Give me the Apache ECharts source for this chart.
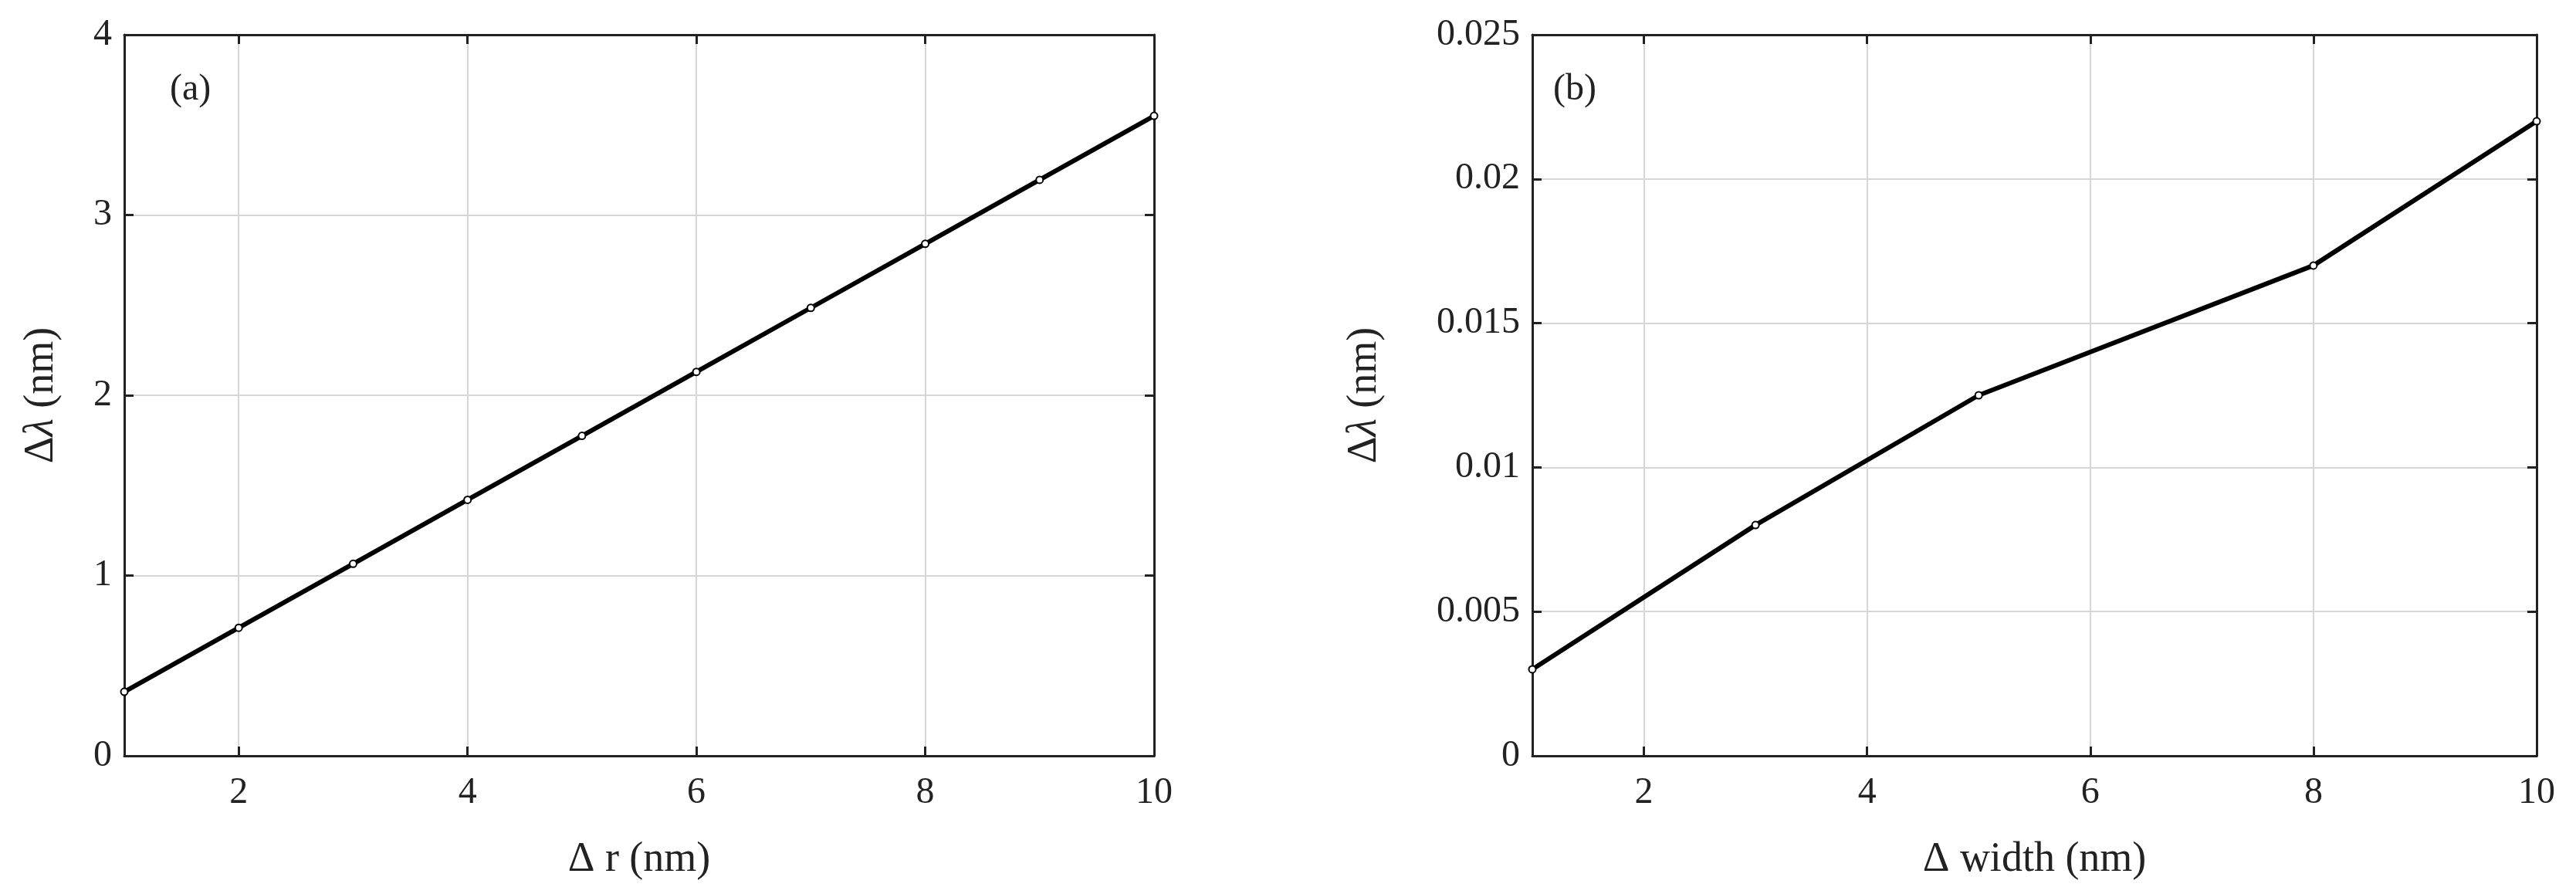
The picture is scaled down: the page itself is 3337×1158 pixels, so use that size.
<!DOCTYPE html>
<html><head><meta charset="utf-8">
<script src="https://cdn.jsdelivr.net/npm/echarts@6/dist/echarts.min.js"></script>
<style>html,body{margin:0;background:#fff}#c{width:3337px;height:1158px}</style>
</head><body><div id="c"></div>
<script>
var rX = [1, 2, 3, 4, 5, 6, 7, 8, 9, 10];
var rY = [0.355, 0.71, 1.065, 1.42, 1.775, 2.13, 2.485, 2.84, 3.195, 3.55];
var wX = [1, 3, 5, 8, 10];
var wY = [0.003, 0.008, 0.0125, 0.017, 0.022];
var xTicks = [2, 4, 6, 8, 10];

var font = 'Liberation Serif';
var chart = echarts.init(document.getElementById('c'));

function xAx(idx, name, show) {
  return {
    type: 'value', gridIndex: idx, min: 1, max: 10, position: show ? 'bottom' : 'top',
    name: show ? name : '', nameLocation: 'middle', nameGap: 108,
    nameTextStyle: { fontFamily: font, fontSize: 54, color: '#222' },
    axisLine: { show: true, onZero: false, lineStyle: { color: '#222', width: 3 } },
    axisTick: { show: true, inside: true, length: 12, customValues: xTicks, lineStyle: { color: '#222', width: 3 } },
    axisLabel: { show: show, customValues: xTicks, fontFamily: font, fontSize: 48, color: '#222', margin: 24 },
    splitLine: { show: show, lineStyle: { color: '#d6d6d6', width: 2 } }
  };
}
function yAx(idx, max, interval, show) {
  return {
    type: 'value', gridIndex: idx, min: 0, max: max, interval: interval, position: show ? 'left' : 'right',
    name: show ? '{d|Δ}{l|λ}{d| (nm)}' : '', nameLocation: 'middle', nameGap: show ? (idx ? 190 : 80) : 0,
    nameTextStyle: { rich: { d: { fontFamily: font, fontSize: 54, color: '#222' }, l: { fontFamily: font, fontSize: 54, fontStyle: 'italic', color: '#222' } } },
    axisLine: { show: true, lineStyle: { color: '#222', width: 3 } },
    axisTick: { show: true, inside: true, length: 12, lineStyle: { color: '#222', width: 3 } },
    axisLabel: { show: show, fontFamily: font, fontSize: 48, color: '#222', margin: 16 },
    splitLine: { show: show, lineStyle: { color: '#d6d6d6', width: 2 } }
  };
}
function line(idx, xs, ys) {
  return {
    type: 'line', xAxisIndex: idx * 2, yAxisIndex: idx * 2,
    data: xs.map(function (x, i) { return [x, ys[i]]; }),
    symbol: 'circle', symbolSize: 9, showSymbol: true,
    lineStyle: { color: '#000', width: 6 },
    itemStyle: { color: '#fff', borderColor: '#000', borderWidth: 2 }
  };
}
chart.setOption({
  animation: false,
  grid: [
    { left: 161, top: 45, width: 1334, height: 934 },
    { left: 1985, top: 45, width: 1301, height: 934 }
  ],
  xAxis: [xAx(0, 'Δ r (nm)', true), xAx(0, '', false), xAx(1, 'Δ width (nm)', true), xAx(1, '', false)],
  yAxis: [yAx(0, 4, 1, true), yAx(0, 4, 1, false), yAx(1, 0.025, 0.005, true), yAx(1, 0.025, 0.005, false)],
  series: [line(0, rX, rY), line(1, wX, wY)],
  graphic: [
    { type: 'text', left: 220, top: 92, style: { text: '(a)', fontFamily: font, fontSize: 48, fill: '#222' } },
    { type: 'text', left: 2012, top: 92, style: { text: '(b)', fontFamily: font, fontSize: 48, fill: '#222' } }
  ]
});
</script></body></html>
